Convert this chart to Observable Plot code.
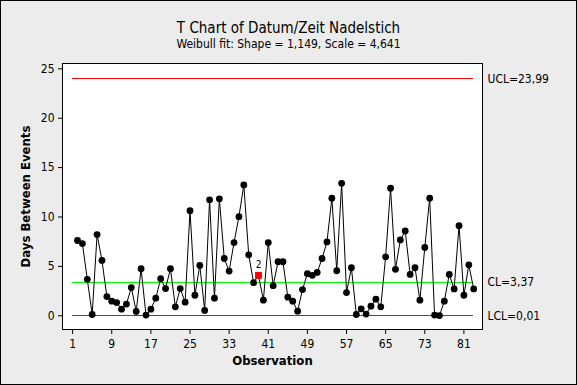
<!DOCTYPE html>
<html><head><meta charset="utf-8">
<script src="https://cdn.jsdelivr.net/npm/d3@7"></script>
<script src="https://cdn.jsdelivr.net/npm/@observablehq/plot@0.6"></script>
<style>
html,body{margin:0;padding:0;}
body{width:577px;height:385px;overflow:hidden;background:#ECECEC;position:relative;font-family:"DejaVu Sans Condensed","DejaVu Sans",sans-serif;}
#border{position:absolute;left:0;top:0;width:577px;height:385px;box-sizing:border-box;border:1px solid #000;pointer-events:none;z-index:5;}
#title{position:absolute;left:0;width:577px;top:19px;text-align:center;font-size:15px;line-height:18px;color:#000;}
#subtitle{position:absolute;left:0;width:577px;top:37px;text-align:center;font-size:12px;line-height:14px;color:#000;}
#chart{position:absolute;left:0;top:55px;}
</style></head>
<body>
<div id="border"></div>
<div id="title">T Chart of Datum/Zeit Nadelstich</div>
<div id="subtitle">Weibull fit: Shape = 1,149, Scale = 4,641</div>
<div id="chart"></div>
<script>
// Days between events, observations 2..83
const firstObservation = 2;
const values = [7.62,7.31,3.69,0.13,8.22,5.60,1.94,1.48,1.34,0.67,1.18,2.85,0.43,4.76,0.07,0.67,1.78,3.75,2.75,4.76,0.91,2.75,1.38,10.63,2.08,5.10,0.54,11.74,1.78,11.84,5.80,4.53,7.41,10.03,13.25,6.17,3.35,4.09,1.58,7.41,3.05,5.47,5.47,1.88,1.48,0.47,2.65,4.26,4.09,4.39,5.80,7.48,11.90,4.56,13.41,2.35,4.86,0.13,0.70,0.17,0.97,1.68,0.91,5.97,12.91,4.70,7.68,8.58,4.19,4.86,1.58,6.91,11.90,0.07,0.02,1.48,4.19,2.72,9.12,2.08,5.16,2.72];
const flaggedObs = [39];
const flaggedTests = ["2"];
const limitNames = ["UCL","CL","LCL"];
const limitValues = [23.99,3.37,0.01];
const limitLabels = ["UCL=23,99","CL=3,37","LCL=0,01"];
const limitColors = ["#FF0000","#00FF00","#FF0000"];
const limitStart = 1, limitEnd = 83;
const xTicks = [1,9,17,25,33,41,49,57,65,73,81];
const yTicks = [0,5,10,15,20,25];

const data = values.map((v,i)=>({obs:i+firstObservation, days:v}));
const normal = data.filter(d=>!flaggedObs.includes(d.obs));
const flagged = data.filter(d=>flaggedObs.includes(d.obs)).map(d=>({...d, test: flaggedTests[flaggedObs.indexOf(d.obs)]}));
const limits = limitNames.map((n,i)=>({name:n, value:limitValues[i], label:limitLabels[i], color:limitColors[i]}));

const font = '"DejaVu Sans Condensed","DejaVu Sans",sans-serif';
const chart = Plot.plot({
  width:577, height:330,
  marginLeft:62, marginRight:95, marginTop:8, marginBottom:56,
  style:{background:"transparent", fontFamily:font, fontSize:"12px", color:"#000"},
  x:{type:"linear", domain:[-1.07,84.8], nice:false},
  y:{type:"linear", domain:[-1.39,25.54], nice:false},
  marks:[
    Plot.frame({fill:"white", stroke:null}),
    Plot.ruleY(limits, {y:"value", x1:limitStart, x2:limitEnd, stroke:"color", strokeWidth:1, shapeRendering:"crispEdges"}),
    Plot.line(data, {x:"obs", y:"days", stroke:"black", strokeWidth:1}),
    Plot.dot(normal, {x:"obs", y:"days", r:3.4, fill:"black", stroke:null}),
    Plot.dot(flagged, {x:"obs", y:"days", symbol:"square", r:3.9, fill:"#FF0000", stroke:null}),
    Plot.text(flagged, {x:"obs", y:"days", text:"test", dy:-11, fontSize:10, fill:"black"}),
    Plot.frame({stroke:"black", strokeWidth:1, shapeRendering:"crispEdges"}),
    Plot.axisY({ticks:yTicks, tickSize:4, tickPadding:4, label:null, fontSize:12}),
    Plot.axisX({ticks:xTicks, tickSize:5, tickPadding:5, label:null, fontSize:12}),
    Plot.text(limits, {frameAnchor:"right", y:"value", text:"label", textAnchor:"start", dx:5, fontSize:12, fill:"black"}),
    Plot.text(["Days Between Events"], {frameAnchor:"left", text:d=>d, rotate:-90, dx:-37, textAnchor:"middle", lineAnchor:"middle", fontSize:13, fontWeight:"bold", fill:"black"}),
    Plot.text(["Observation"], {frameAnchor:"bottom", text:d=>d, dy:31, textAnchor:"middle", lineAnchor:"middle", fontSize:13, fontWeight:"bold", fill:"black"})
  ]
});
document.getElementById("chart").appendChild(chart);
</script>
</body></html>
